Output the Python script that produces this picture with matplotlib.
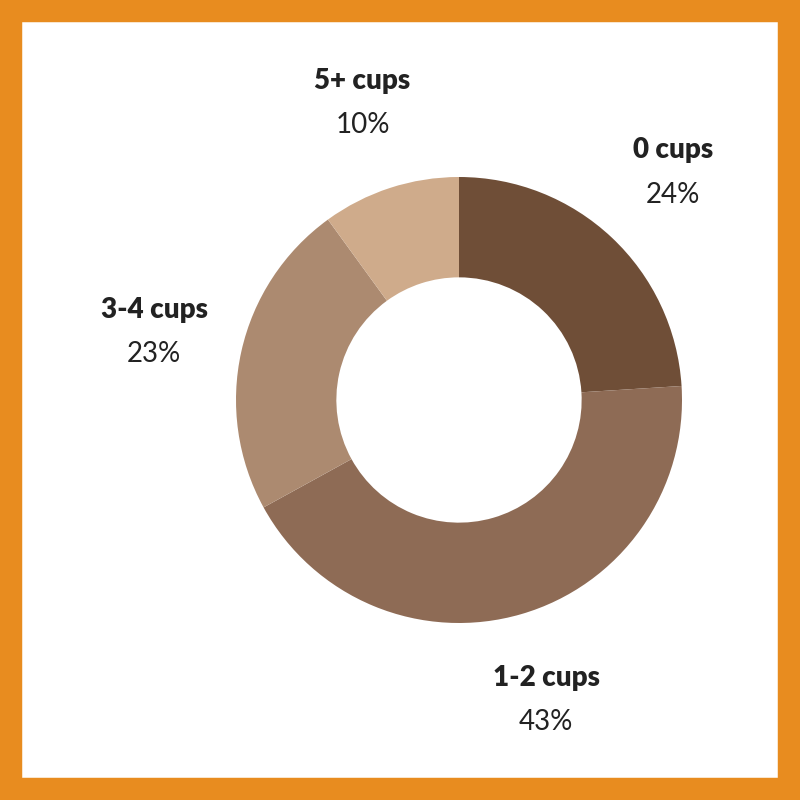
import matplotlib.pyplot as plt
import matplotlib.patches as mpatches
import numpy as np

labels = ['0 cups', '1-2 cups', '3-4 cups', '5+ cups']
shares = [24, 43, 23, 10]
colors = ['#6F4E37', '#8E6B55', '#AC8A70', '#CFAB8B']

plt.rcParams['font.family'] = ['Lato', 'DejaVu Sans']

fig = plt.figure(figsize=(8, 8), dpi=100)
fig.patch.set_facecolor('white')
# orange frame
fig.patches.append(mpatches.Rectangle((0, 0), 1, 1, transform=fig.transFigure,
                                      fill=False, edgecolor='#E88C1F', linewidth=32))

# axes centred on the donut, radius 1 == 223 px
ax = fig.add_axes([159 / 800, 100 / 800, 600 / 800, 600 / 800])

wedges, _ = ax.pie(shares, colors=colors, startangle=90, counterclock=False,
                   radius=1, wedgeprops=dict(width=0.45, edgecolor='none'))
ax.set_xlim(-300 / 223, 300 / 223)
ax.set_ylim(-300 / 223, 300 / 223)
ax.set_aspect('equal')
ax.axis('off')

for w, name, val in zip(wedges, labels, shares):
    ang = np.deg2rad((w.theta1 + w.theta2) / 2)
    x, y = 1.4 * np.cos(ang), 1.4 * np.sin(ang)
    ax.annotate(name, (x, y), xytext=(0, 16), textcoords='offset points',
                ha='center', va='center', fontsize=20, fontweight='heavy',
                color='#222222', annotation_clip=False)
    ax.annotate(f'{val}%', (x, y), xytext=(0, -16), textcoords='offset points',
                ha='center', va='center', fontsize=20, color='#222222',
                annotation_clip=False)

fig.savefig('out.png', dpi=100)
